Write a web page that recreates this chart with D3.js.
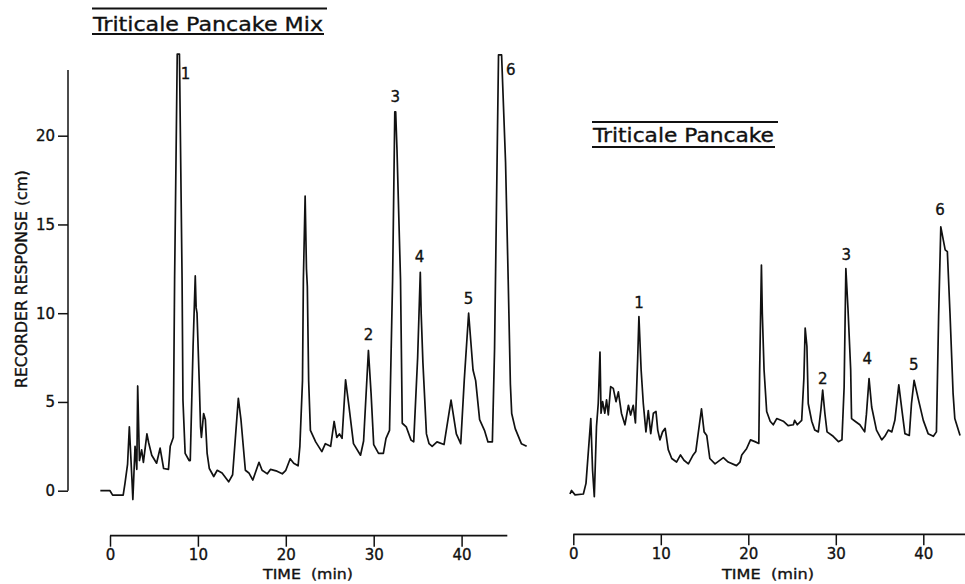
<!DOCTYPE html>
<html>
<head>
<meta charset="utf-8">
<script src="https://cdn.jsdelivr.net/npm/d3@7"></script>
<style>
  html, body { margin: 0; padding: 0; background: #fff; }
  svg { display: block; }
  text { font-family: "DejaVu Sans", "Liberation Sans", sans-serif; fill: #111; stroke: #111; stroke-width: 0.35px; }
</style>
</head>
<body>
<svg id="chart" width="965" height="584"></svg>
<script>
// ---------------- DATA ----------------
const titleLeft = "Triticale Pancake Mix";
const titleRight = "Triticale Pancake";
const yAxisTitle = "RECORDER RESPONSE (cm)";
const xAxisTitle = "TIME  (min)";
const yTicks = [0, 5, 10, 15, 20];
const xTicks = [0, 10, 20, 30, 40];

// Left chromatogram: Triticale Pancake Mix
const mixTime = [-1.1,0,0.3,1.5,1.7,2.0,2.2,2.5,2.6,2.85,3.05,3.15,3.35,3.6,3.8,4.2,4.4,4.75,5.3,5.7,6.1,6.65,6.85,7.2,7.35,7.65,7.9,8.2,8.3,8.55,9.0,9.13,9.45,9.6,9.7,9.8,9.9,10.15,10.3,10.4,10.65,10.85,11.05,11.3,11.8,12.2,12.75,13.5,13.95,14.6,14.9,15.4,15.8,16.25,16.95,17.3,17.9,18.25,19.0,19.6,20.0,20.5,20.9,21.4,21.6,21.9,22.0,22.2,22.35,22.45,22.6,22.8,23.4,24.1,24.5,25.1,25.5,25.8,26.1,26.4,26.8,27.2,27.7,28.5,28.85,29.4,29.7,30.0,30.55,31.1,31.4,31.8,32.15,32.4,32.5,32.65,33.05,33.25,33.7,34.25,34.55,35.0,35.3,35.4,35.6,36.0,36.3,36.65,37.2,38.0,38.8,39.4,39.9,40.3,40.8,41.3,41.6,42.05,42.6,43.0,43.5,43.75,44.2,44.55,45.0,45.3,45.55,45.7,46.1,46.8,47.4];
const mixResp = [0.0,0.0,-0.25,-0.25,0.4,1.5,3.6,0.6,-0.5,2.5,1.2,5.9,1.7,2.3,1.6,3.2,2.7,2.0,1.55,2.4,1.25,1.2,2.5,3.0,11.9,24.6,24.6,11.9,5.1,2.1,1.7,1.7,8.1,10.5,12.1,10.3,10.0,6.2,3.6,3.0,4.35,4.0,2.1,1.25,0.8,1.15,1.0,0.5,0.9,5.2,4.0,1.15,1.0,0.6,1.6,1.15,0.95,1.2,1.1,0.95,1.15,1.8,1.55,1.4,2.5,6.2,11.9,16.6,12.5,11.5,6.2,3.4,2.75,2.2,2.65,2.5,3.9,3.0,3.2,2.95,6.25,4.7,2.65,2.0,2.8,7.9,5.5,2.6,2.1,2.1,2.95,3.4,11.9,21.35,21.35,19.2,11.9,3.8,3.6,2.85,2.75,7.5,12.3,10.0,7.2,3.2,2.65,2.5,2.75,2.6,5.1,3.2,2.65,6.2,10.0,6.8,6.2,4.0,3.4,2.75,2.75,8.0,24.55,24.55,18.5,11.9,6.0,4.35,3.5,2.65,2.5];

// Right chromatogram: Triticale Pancake
const cakeTime = [-0.38,-0.2,0.2,1.15,1.45,2.0,2.2,2.4,2.65,2.85,3.05,3.17,3.35,3.6,3.8,4.0,4.27,4.57,4.88,5.15,5.5,5.9,6.3,6.55,6.85,7.1,7.35,7.5,7.75,8.0,8.3,8.57,8.85,9.15,9.45,9.65,9.9,10.2,10.5,10.85,11.25,11.8,12.25,12.65,13.15,13.7,14.0,14.65,14.95,15.25,15.6,16.2,17.15,17.7,18.65,19.05,19.25,19.8,20.25,20.75,21.2,21.3,21.5,21.6,21.8,22.1,22.5,22.85,23.25,24.0,24.55,25.15,25.3,25.6,26.1,26.35,26.5,26.7,26.85,27.25,27.6,28.0,28.3,28.5,28.75,29.0,29.7,30.3,30.7,30.95,31.15,31.4,31.7,31.8,32.2,32.75,33.3,33.5,33.8,34.1,34.65,35.25,35.6,36.0,36.4,36.75,37.2,37.55,37.9,38.4,38.65,38.95,39.45,40.0,40.55,41.15,41.5,41.75,42.0,42.5,42.75,43.05,43.4,43.6,44.2];
const cakeResp = [0,0.2,-0.05,0,0.6,4.25,1.35,-0.15,3.8,5.1,8.0,4.55,5.2,4.55,5.3,4.45,6.05,5.95,5.2,5.75,4.55,3.9,5.0,4.45,5.0,4.0,7.5,10.0,7.0,5.1,3.5,4.7,3.4,4.55,4.65,3.6,3.05,3.5,3.7,2.5,2.0,1.8,2.2,1.9,1.7,2.2,2.4,4.8,3.5,3.3,2.0,1.7,2.05,1.8,1.6,1.8,2.2,2.55,3.05,2.95,2.85,7.0,12.9,10.2,7.0,4.65,4.1,3.9,4.25,4.1,3.85,3.9,4.15,3.9,4.15,6.5,9.35,8.3,5.1,4.1,3.6,3.5,4.75,5.85,4.55,3.5,3.25,2.95,3.05,6.0,12.7,10.35,7.0,4.25,4.1,3.9,3.5,4.5,6.5,4.9,3.6,3.05,3.25,3.6,3.5,4.15,6.15,4.75,3.4,3.3,5.1,6.4,5.3,4.15,3.4,3.25,3.5,10.0,15.05,13.75,13.65,10.2,5.7,4.25,3.3];

// Peak labels (peak number, retention time, label height in cm)
const mixPeakNames = ["1","2","3","4","5","6"];
const mixPeakTime  = [8.6, 29.4, 32.45, 35.2, 40.8, 45.6];
const mixPeakLevel = [23.2, 8.5, 21.9, 12.9, 10.5, 23.4];
const cakePeakNames = ["1","2","3","4","5","6"];
const cakePeakTime  = [7.5, 28.5, 31.2, 33.6, 38.9, 41.9];
const cakePeakLevel = [10.5, 6.2, 13.2, 7.3, 7.0, 15.7];

// ---------------- DRAW ----------------
const svg = d3.select("#chart");

const xL = d3.scaleLinear().domain([0, 40]).range([110, 461.6]);
const yL = d3.scaleLinear().domain([0, 20]).range([490.7, 135.7]);
const xR = d3.scaleLinear().domain([0, 40]).range([573.3, 923.3]);
const yR = d3.scaleLinear().domain([0, 20]).range([494, 139]);

function drawTitle(text, x0, x1, yTop, baseline, yUnder) {
  const g = svg.append("g");
  g.append("line").attr("x1", x0).attr("x2", x1 + 3).attr("y1", yTop).attr("y2", yTop)
    .attr("stroke", "#111").attr("stroke-width", 2.2);
  g.append("text").attr("x", x0 + 1).attr("y", baseline)
    .attr("font-size", 20).attr("textLength", x1 - x0 - 2).attr("lengthAdjust", "spacingAndGlyphs")
    .text(text);
  g.append("line").attr("x1", x0).attr("x2", x1).attr("y1", yUnder).attr("y2", yUnder)
    .attr("stroke", "#111").attr("stroke-width", 2.2);
}
drawTitle(titleLeft, 92, 324, 8.5, 31, 34);
drawTitle(titleRight, 592, 775, 122, 142, 147);

// Left y axis
const yAxisG = svg.append("g").attr("transform", "translate(68,0)")
  .call(d3.axisLeft(yL).tickValues(yTicks).tickSize(10).tickPadding(3).tickFormat(d3.format("d")));
yAxisG.select(".domain").remove();
yAxisG.append("line").attr("x1", 0).attr("x2", 0).attr("y1", yL(0)).attr("y2", yL(23.7))
  .attr("stroke", "#111").attr("stroke-width", 1.5);
yAxisG.selectAll(".tick line").attr("stroke", "#111").attr("stroke-width", 1.5);
yAxisG.selectAll(".tick text").attr("font-size", 15).attr("fill", "#111")
  .style("font-family", "DejaVu Sans, sans-serif");

svg.append("text")
  .attr("transform", "translate(22,279) rotate(-90)")
  .attr("text-anchor", "middle").attr("dominant-baseline", "central")
  .attr("font-size", 15).attr("textLength", 218).attr("lengthAdjust", "spacingAndGlyphs")
  .text(yAxisTitle);

// X axes
function drawXAxis(scale, yPos, xEndVal) {
  const g = svg.append("g").attr("transform", `translate(0,${yPos})`)
    .call(d3.axisBottom(scale).tickValues(xTicks).tickSize(11).tickPadding(3).tickFormat(d3.format("d")));
  g.select(".domain").remove();
  g.append("line").attr("x1", scale(0)).attr("x2", scale(xEndVal)).attr("y1", 0).attr("y2", 0)
    .attr("stroke", "#111").attr("stroke-width", 1.8);
  g.selectAll(".tick line").attr("stroke", "#111").attr("stroke-width", 1.5);
  g.selectAll(".tick text").attr("font-size", 15).attr("fill", "#111")
    .style("font-family", "DejaVu Sans, sans-serif");
  return g;
}
drawXAxis(xL, 535.7, 45.2);
drawXAxis(xR, 534.3, 45.0);

svg.append("text").attr("x", 263).attr("y", 579).attr("font-size", 14.5)
  .attr("textLength", 90).attr("lengthAdjust", "spacingAndGlyphs")
  .style("white-space", "pre").text(xAxisTitle);
svg.append("text").attr("x", 722).attr("y", 579).attr("font-size", 14.5)
  .attr("textLength", 92).attr("lengthAdjust", "spacingAndGlyphs")
  .style("white-space", "pre").text(xAxisTitle);

// Traces
const mixData = mixTime.map((t, i) => [t, mixResp[i]]);
const cakeData = cakeTime.map((t, i) => [t, cakeResp[i]]);

svg.append("path").datum(mixData)
  .attr("fill", "none").attr("stroke", "#111").attr("stroke-width", 1.7).attr("stroke-linejoin", "round")
  .attr("d", d3.line().x(d => xL(d[0])).y(d => yL(d[1])));
svg.append("path").datum(cakeData)
  .attr("fill", "none").attr("stroke", "#111").attr("stroke-width", 1.7).attr("stroke-linejoin", "round")
  .attr("d", d3.line().x(d => xR(d[0])).y(d => yR(d[1])));

// Peak labels
svg.append("g").selectAll("text").data(mixPeakNames).join("text")
  .attr("x", (d, i) => xL(mixPeakTime[i])).attr("y", (d, i) => yL(mixPeakLevel[i]))
  .attr("text-anchor", "middle").attr("font-size", 15).text(d => d);
svg.append("g").selectAll("text").data(cakePeakNames).join("text")
  .attr("x", (d, i) => xR(cakePeakTime[i])).attr("y", (d, i) => yR(cakePeakLevel[i]))
  .attr("text-anchor", "middle").attr("font-size", 15).text(d => d);
</script>
</body>
</html>
